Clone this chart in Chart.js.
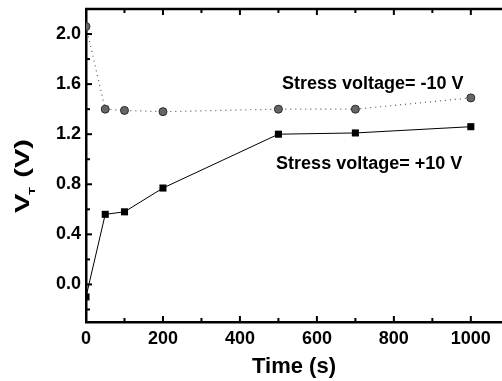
<!DOCTYPE html>
<html>
<head>
<meta charset="utf-8">
<script src="https://cdn.jsdelivr.net/npm/chart.js@4/dist/chart.umd.min.js"></script>
<style>
    html, body { margin: 0; padding: 0; background: #fff; overflow: hidden; }
    canvas { display: block; }
</style>
</head>
<body>
<canvas id="grafico" width="502" height="381"></canvas>
<script>
// Datos
const tiempos = [0, 50, 100, 200, 500, 700, 1000];
const vtMenos10 = [2.06, 1.40, 1.39, 1.38, 1.40, 1.40, 1.49];
const vtMas10 = [-0.10, 0.56, 0.58, 0.77, 1.20, 1.21, 1.26];

// Marcas de los ejes
const xTicks = [0, 200, 400, 600, 800, 1000];
const xMinor = [100, 300, 500, 700, 900];
const yTicks = [0.0, 0.4, 0.8, 1.2, 1.6, 2.0];
const yMinor = [-0.2, 0.2, 0.6, 1.0, 1.4, 1.8];

const etiquetas = ['Stress voltage= -10 V', 'Stress voltage= +10 V'];

const fuente = "'Liberation Sans', Arial, sans-serif";
Chart.defaults.font.family = fuente;
Chart.defaults.color = '#000';

// Pasa dos arrays a puntos {x, y}
function puntos(xs, ys) {
    return xs.map((x, i) => ({ x: x, y: ys[i] }));
}

// Dibuja el marco superior, las marcas hacia dentro, el título Y y los textos
const marcoEjes = {
    id: 'marcoEjes',
    afterDraw(chart) {
        const ctx = chart.ctx;
        const a = chart.chartArea;
        const sx = chart.scales.x;
        const sy = chart.scales.y;
        ctx.save();
        ctx.strokeStyle = '#000';
        ctx.lineWidth = 2.5;
        ctx.beginPath();
        ctx.moveTo(a.left - 1, a.top);
        ctx.lineTo(a.right, a.top);
        ctx.stroke();

        ctx.lineWidth = 2;
        function linea(x1, y1, x2, y2) {
            ctx.beginPath();
            ctx.moveTo(x1, y1);
            ctx.lineTo(x2, y2);
            ctx.stroke();
        }
        xTicks.forEach(v => {
            const px = sx.getPixelForValue(v);
            linea(px, a.bottom, px, a.bottom - 6);
            linea(px, a.top, px, a.top + 6);
        });
        xMinor.forEach(v => {
            const px = sx.getPixelForValue(v);
            linea(px, a.bottom, px, a.bottom - 4);
            linea(px, a.top, px, a.top + 4);
        });
        yTicks.forEach(v => {
            const py = sy.getPixelForValue(v);
            linea(a.left, py, a.left + 6, py);
        });
        yMinor.forEach(v => {
            const py = sy.getPixelForValue(v);
            linea(a.left, py, a.left + 4, py);
        });

        // Título del eje Y: V con subíndice T
        ctx.fillStyle = '#000';
        ctx.textBaseline = 'alphabetic';
        ctx.textAlign = 'left';
        ctx.translate(29, 176);
        ctx.rotate(-Math.PI / 2);
        ctx.scale(1.45, 1);
        ctx.font = 'bold 20px ' + fuente;
        const w1 = ctx.measureText('V').width;
        const w3 = ctx.measureText(' (V)').width;
        ctx.font = 'bold 9px ' + fuente;
        const w2 = ctx.measureText('T').width;
        let x0 = -(w1 + w2 + w3) / 2;
        ctx.font = 'bold 20px ' + fuente;
        ctx.fillText('V', x0, 0);
        ctx.font = 'bold 9px ' + fuente;
        ctx.fillText('T', x0 + w1 - 1, 6);
        ctx.font = 'bold 20px ' + fuente;
        ctx.fillText(' (V)', x0 + w1 + w2, 0);
        ctx.restore();

        // Textos de las series
        ctx.save();
        ctx.fillStyle = '#000';
        ctx.font = 'bold 18px ' + fuente;
        ctx.textAlign = 'left';
        ctx.textBaseline = 'alphabetic';
        ctx.fillText(etiquetas[0], sx.getPixelForValue(509), sy.getPixelForValue(1.56));
        ctx.fillText(etiquetas[1], sx.getPixelForValue(494), sy.getPixelForValue(0.92));
        ctx.restore();
    }
};

const ctx = document.getElementById('grafico').getContext('2d');

const grafico = new Chart(ctx, {
    type: 'line',
    data: {
        datasets: [
            {
                label: etiquetas[0],
                data: puntos(tiempos, vtMenos10),
                borderColor: '#555',
                borderWidth: 1.2,
                borderDash: [1, 4],
                pointStyle: 'circle',
                pointRadius: 4,
                pointBackgroundColor: '#666',
                pointBorderColor: '#2a2a2a',
                pointBorderWidth: 1,
                tension: 0,
                clip: { left: 0, top: 0, right: 0, bottom: 0 }
            },
            {
                label: etiquetas[1],
                data: puntos(tiempos, vtMas10),
                borderColor: '#000',
                borderWidth: 1,
                pointStyle: 'rect',
                pointRadius: 5,
                pointBackgroundColor: '#000',
                pointBorderColor: '#000',
                pointBorderWidth: 0,
                tension: 0,
                clip: { left: 0, top: 0, right: 0, bottom: 0 }
            }
        ]
    },
    options: {
        responsive: false,
        animation: false,
        layout: {
            autoPadding: false,
            padding: { top: 9, right: 0, left: 0, bottom: 0 }
        },
        plugins: {
            legend: { display: false },
            tooltip: { enabled: false }
        },
        scales: {
            x: {
                type: 'linear',
                min: 0,
                max: 1081,
                grid: { display: false, drawTicks: false, tickLength: 0 },
                border: { display: true, color: '#000', width: 2.5 },
                ticks: {
                    font: { size: 18, weight: 'bold' },
                    padding: 6,
                    maxRotation: 0,
                    callback: v => String(v)
                },
                afterBuildTicks: scale => {
                    scale.ticks = xTicks.map(v => ({ value: v }));
                },
                afterFit: scale => {
                    scale.height = 59;
                    scale.paddingLeft = 0;
                    scale.paddingRight = 0;
                },
                title: {
                    display: true,
                    text: 'Time (s)',
                    font: { size: 22, weight: 'bold' },
                    padding: { top: 0, bottom: 1 }
                }
            },
            y: {
                type: 'linear',
                min: -0.3,
                max: 2.2,
                grid: { display: false, drawTicks: false, tickLength: 0 },
                border: { display: true, color: '#000', width: 2.5 },
                ticks: {
                    font: { size: 18, weight: 'bold' },
                    padding: 5,
                    callback: v => v.toFixed(1)
                },
                afterBuildTicks: scale => {
                    scale.ticks = yTicks.map(v => ({ value: v }));
                },
                afterFit: scale => {
                    scale.width = 86;
                    scale.paddingTop = 0;
                    scale.paddingBottom = 0;
                }
            }
        }
    },
    plugins: [marcoEjes]
});
</script>
</body>
</html>
